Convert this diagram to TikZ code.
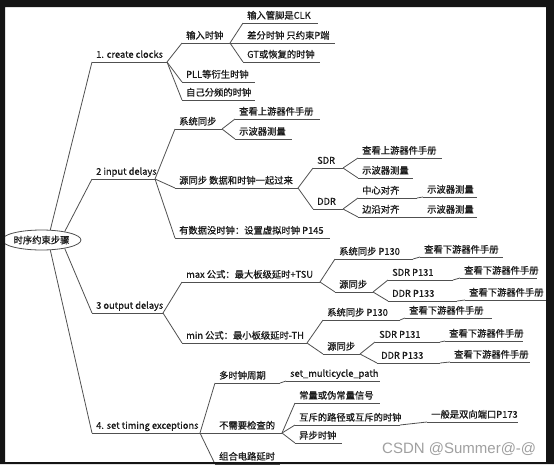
\documentclass[tikz,border=0pt]{standalone}
\usepackage{fontspec}
\setmainfont{Noto Sans CJK SC}[FakeBold=0.7]
\newfontfamily\wmfont{Liberation Sans}
\usetikzlibrary{shapes.geometric}
\definecolor{linec}{HTML}{505050}
\definecolor{txtc}{HTML}{1A1A1A}
\definecolor{wmc}{HTML}{A0A0A0}
\definecolor{framec}{HTML}{141414}
\tikzset{
 ln/.style={draw=linec, line width=0.8pt},
 it/.style={anchor=south west, inner xsep=4pt, inner ysep=2pt, text height=7pt, text depth=2pt, font=\fontsize{9.3}{11}\selectfont, text=txtc},
}
\newcommand\mnode[5]{\node[it] (#1) at (#2,#3) {#5}; \coordinate (#1e) at (#4,#3); \draw[ln] (#1.south west) -- (#1e);}
\newcommand\conn[2]{\draw[ln] (#1e) -- (#2.south west);}
\begin{document}
\begin{tikzpicture}[x=1pt,y=-1pt]
\useasboundingbox (0,0) rectangle (554,464);
\fill[white] (0,0) rectangle (554,464);
% root
\node[ellipse, draw=linec, line width=0.8pt, minimum width=71pt, minimum height=20pt, inner sep=0pt, font=\fontsize{9.3}{11}\selectfont, text=txtc] (root) at (41.5,240) {时序约束步骤};
% branch 1
\mnode{b1}{92}{62}{167}{1. create clocks}
\mnode{c11}{182}{43}{230}{输入时钟}
\mnode{c111}{243}{23}{318}{输入管脚是CLK}
\mnode{c112}{243}{43}{335}{差分时钟 只约束P端}
\mnode{c113}{243}{62}{320}{GT或恢复的时钟}
\mnode{c12}{182}{82}{255}{PLL等衍生时钟}
\mnode{c13}{182}{100}{255}{自己分频的时钟}
% branch 2
\mnode{b2}{92}{179}{155}{2 input delays}
\mnode{c21}{175}{129}{222}{系统同步}
\mnode{c211}{235}{119}{320}{查看上游器件手册}
\mnode{c212}{235}{139}{292}{示波器测量}
\mnode{c22}{175}{188}{298}{源同步 数据和时钟一起过来}
\mnode{c221}{313}{168}{343}{SDR}
\mnode{c2211}{358}{158}{442}{查看上游器件手册}
\mnode{c2212}{358}{178}{413}{示波器测量}
\mnode{c222}{313}{209}{343}{DDR}
\mnode{c2221}{358}{198}{417}{中心对齐}
\mnode{c22211}{423}{197}{477}{示波器测量}
\mnode{c2222}{358}{217}{417}{边沿对齐}
\mnode{c22221}{423}{217}{477}{示波器测量}
\mnode{c23}{175}{238}{330}{有数据没时钟：设置虚拟时钟 P145}
% branch 3
\mnode{b3}{92}{313}{163}{3 output delays}
\mnode{c31}{182}{282}{320}{max 公式：最大板级延时+TSU}
\mnode{c311}{335}{259}{413}{系统同步 P130}
\mnode{c3111}{420}{257}{503}{查看下游器件手册}
\mnode{c312}{335}{292}{373}{源同步}
\mnode{c3121}{388}{280}{453}{SDR P131}
\mnode{c31211}{460}{278}{537}{查看下游器件手册}
\mnode{c3122}{388}{301}{457}{DDR P133}
\mnode{c31221}{465}{300}{547}{查看下游器件手册}
\mnode{c32}{182}{343}{307}{min 公式：最小板级延时-TH}
\mnode{c321}{323}{320}{400}{系统同步 P130}
\mnode{c3211}{405}{318}{492}{查看下游器件手册}
\mnode{c322}{323}{354}{360}{源同步}
\mnode{c3221}{375}{342}{440}{SDR P131}
\mnode{c32211}{445}{341}{523}{查看下游器件手册}
\mnode{c3222}{377}{363}{440}{DDR P133}
\mnode{c32221}{450}{362}{530}{查看下游器件手册}
% branch 4
\mnode{b4}{92}{433}{200}{4. set timing exceptions}
\mnode{c41}{215}{383}{280}{多时钟周期}
\mnode{c411}{286}{381}{380}{set\_multicycle\_path}
\mnode{c42}{215}{433}{282}{不需要检查的}
\mnode{c421}{295}{403}{380}{常量或伪常量信号}
\mnode{c422}{295}{425}{400}{互斥的路径或互斥的时钟}
\mnode{c4221}{427}{422}{518}{一般是双向端口P173}
\mnode{c423}{295}{443}{342}{异步时钟}
\mnode{c43}{215}{464}{280}{组合电路延时}
% connectors from root
\draw[ln] (root.49) -- (b1.south west);
\draw[ln] (root.20) -- (b2.south west);
\draw[ln] (root.-20) -- (b3.south west);
\draw[ln] (root.-49) -- (b4.south west);
% connectors
\conn{b1}{c11} \conn{b1}{c12} \conn{b1}{c13}
\conn{c11}{c111} \conn{c11}{c112} \conn{c11}{c113}
\conn{b2}{c21} \conn{b2}{c22} \conn{b2}{c23}
\conn{c21}{c211} \conn{c21}{c212}
\conn{c22}{c221} \conn{c22}{c222}
\conn{c221}{c2211} \conn{c221}{c2212}
\conn{c222}{c2221} \conn{c222}{c2222}
\conn{c2221}{c22211} \conn{c2222}{c22221}
\conn{b3}{c31} \conn{b3}{c32}
\conn{c31}{c311} \conn{c31}{c312}
\conn{c311}{c3111}
\conn{c312}{c3121} \conn{c312}{c3122}
\conn{c3121}{c31211} \conn{c3122}{c31221}
\conn{c32}{c321} \conn{c32}{c322}
\conn{c321}{c3211}
\conn{c322}{c3221} \conn{c322}{c3222}
\conn{c3221}{c32211} \conn{c3222}{c32221}
\conn{b4}{c41} \conn{b4}{c42} \conn{b4}{c43}
\conn{c41}{c411}
\conn{c42}{c421} \conn{c42}{c422} \conn{c42}{c423}
\conn{c422}{c4221}
% watermark
\node[anchor=base west, inner sep=0pt, font=\wmfont\fontsize{15}{15}\selectfont, text=wmc] (wm) at (382,453) {CSDN @Summer@-@};
% frame
\fill[framec, even odd rule] (0,0) rectangle (554,464) (5,7) rectangle (546,462);
\end{tikzpicture}
\end{document}
